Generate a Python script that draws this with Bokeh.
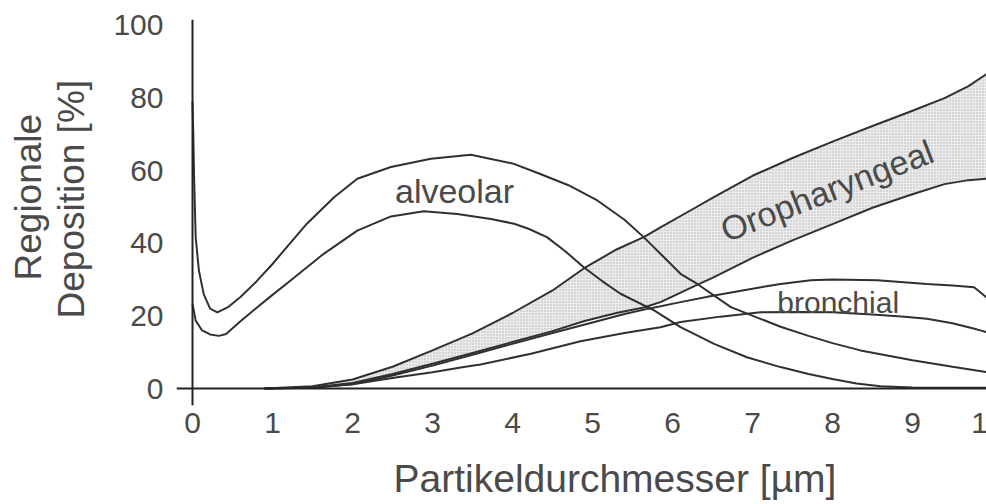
from bokeh.plotting import figure
from bokeh.models import Range1d, FixedTicker, Span, Label, Title
from bokeh.embed import file_html
from bokeh.resources import INLINE

# Particle diameter [µm] and regional deposition [%]
alv_up_x = [0.0, 0.01, 0.02, 0.04, 0.08, 0.14, 0.22, 0.31, 0.45, 0.6, 0.8, 1.0, 1.2, 1.43, 1.77,
            2.06, 2.48, 2.98, 3.48, 4.0, 4.3, 4.7, 5.06, 5.4, 5.64, 5.9, 6.1, 6.31, 6.73, 7.1,
            7.35, 7.7, 8.0, 8.35, 8.7, 9.0, 9.5, 9.93]
alv_up_y = [79, 70, 58, 41.6, 32.5, 26, 22, 21, 22.5, 25.2, 29.5, 34.3, 39.5, 45.4, 52.7,
            57.8, 61.0, 63.3, 64.4, 62.0, 59.5, 56, 51.8, 46.5, 41.7, 36, 31.6, 28.8, 22.4, 19.2,
            17, 14.5, 12.5, 10.5, 9, 7.8, 6, 4.5]

alv_lo_x = [0.0, 0.04, 0.12, 0.22, 0.33, 0.42, 0.6, 0.81, 1.0, 1.23, 1.64, 2.06, 2.48, 2.89,
            3.31, 3.73, 4.02, 4.2, 4.43, 4.66, 4.89, 5.12, 5.35, 5.77, 6.1, 6.52, 6.93, 7.35,
            7.7, 8.0, 8.3, 8.6, 9.0, 9.5, 9.93]
alv_lo_y = [23.4, 18.7, 16.0, 14.9, 14.5, 15.0, 18.5, 22.4, 25.8, 29.8, 37.1, 43.5, 47.4, 48.8,
            48.1, 46.7, 45.4, 44.0, 41.7, 37.8, 33.4, 29.6, 26.1, 21.5, 16.9, 12.3, 8.6, 5.9,
            4.0, 2.6, 1.4, 0.6, 0.3, 0.2, 0.2]

oro_x = [0.9, 1.5, 2.0, 2.5, 3.0, 3.5, 4.0, 4.5, 4.9, 5.3, 5.64, 5.85, 6.3, 6.5, 7.0, 7.5,
         8.0, 8.5, 9.0, 9.4, 9.7, 9.93]
oro_top = [0, 0.6, 2.5, 6.0, 10.5, 15.2, 20.8, 27.0, 33.2, 38.3, 41.7, 44.4, 50.0, 52.5, 58.6,
           63.5, 68.0, 72.3, 76.5, 80.0, 83.3, 86.7]
oro_bot = [0, 0.3, 1.5, 4.0, 6.8, 9.8, 12.8, 15.8, 18.6, 20.8, 22.3, 23.8, 28.5, 30.5, 36.0,
           40.8, 45.3, 49.8, 53.5, 56.3, 57.4, 57.8]

br_up_x = [0.9, 1.5, 2.0, 2.5, 3.0, 3.5, 4.0, 4.5, 5.0, 5.4, 5.7, 6.1, 6.52, 7.0, 7.35, 7.73,
           8.0, 8.56, 9.18, 9.5, 9.77, 9.93]
br_up_y = [0, 0.2, 1.2, 3.6, 6.3, 9.3, 12.3, 15.3, 18.2, 20.5, 22.0, 23.8, 25.6, 27.5, 28.8,
           29.8, 30.0, 29.8, 28.8, 28.4, 27.9, 25.0]

br_lo_x = [0.9, 1.5, 2.0, 2.56, 3.0, 3.39, 3.6, 4.23, 4.85, 5.4, 5.85, 6.1, 6.6, 7.1, 7.6, 8.0,
           8.5, 8.9, 9.18, 9.5, 9.8, 9.93]
br_lo_y = [0, 0.3, 1.2, 3.1, 4.5, 5.9, 6.6, 9.6, 13.0, 15.3, 16.9, 18.3, 19.8, 21.0, 21.1, 21.0,
           20.4, 19.8, 19.2, 18.0, 16.3, 15.5]

x_ticks = [0, 1, 2, 3, 4, 5, 6, 7, 8, 9, 10]
y_ticks = [0, 20, 40, 60, 80, 100]

FONT = "Liberation Sans"
TEXT = "#4a4a4a"
INK = "#303030"

# the plot runs past the right and bottom window edges; the last tick label is cut off there
p = figure(width=1004, height=530, output_backend="svg", toolbar_location=None,
           x_range=Range1d(-0.2, 10.15), y_range=Range1d(-4.68, 101.65),
           min_border_left=176, min_border_right=0, min_border_top=19, min_border_bottom=125)
p.outline_line_color = None
p.grid.visible = False
p.background_fill_color = "white"

for ax in (p.xaxis[0], p.yaxis[0]):
    ax.axis_line_color = None
    ax.major_tick_line_color = None
    ax.minor_tick_line_color = None
    ax.major_tick_in = 0
    ax.major_tick_out = 0
    ax.major_label_text_font = FONT
    ax.major_label_text_font_size = "30px"
    ax.major_label_text_color = TEXT

p.xaxis.ticker = FixedTicker(ticks=x_ticks)
p.yaxis.ticker = FixedTicker(ticks=y_ticks)
p.xaxis.major_label_standoff = 7
p.yaxis.major_label_standoff = 13

# oropharyngeal band
p.varea(x=oro_x, y1=oro_bot, y2=oro_top, fill_color="#ebebeb",
        hatch_pattern=".", hatch_color="#8c8c8c", hatch_scale=3, hatch_weight=1, hatch_alpha=0.55)
p.line(oro_x, oro_top, line_color=INK, line_width=2)
p.line(oro_x, oro_bot, line_color=INK, line_width=2)

# bronchial and alveolar curves
p.line(br_up_x, br_up_y, line_color=INK, line_width=2)
p.line(br_lo_x, br_lo_y, line_color=INK, line_width=2)
p.line(alv_up_x, alv_up_y, line_color=INK, line_width=2)
p.line(alv_lo_x, alv_lo_y, line_color=INK, line_width=2)

# axes crossing at the origin
p.add_layout(Span(location=0, dimension="height", line_color="#222222", line_width=2))
p.add_layout(Span(location=0, dimension="width", line_color="#222222", line_width=2))

def lab(x, y, text, size, align="center", baseline="middle", angle=0.0):
    p.add_layout(Label(x=x, y=y, text=text, text_font=FONT, text_font_size=size,
                       text_color=TEXT, text_align=align, text_baseline=baseline, angle=angle))

lab(3.275, 54.5, "alveolar", "34px", baseline="alphabetic")
lab(7.31, 23.7, "bronchial", "30px", align="left", baseline="alphabetic")
lab(7.93, 54.5, "Oropharyngeal", "34px", angle=0.37)

def side_title(text, place, offset, standoff, size="37px"):
    p.add_layout(Title(text=text, align="left", offset=offset, standoff=standoff,
                       text_font=FONT, text_font_size=size, text_font_style="normal",
                       text_color=TEXT), place)

# blank gap between the y tick labels and the two-line y title
side_title(" ", "left", 0, 6, size="10px")
side_title("Deposition [%]", "left", 87, 0)
side_title("Regionale", "left", 125, 0)
side_title("Partikeldurchmesser [µm]", "below", 217, 38, size="39px")

html = file_html(p, INLINE)
html = html.replace("</head>", "<style>html, body {margin: 0; overflow: hidden;}</style></head>", 1)
open("out.html", "w").write(html)
